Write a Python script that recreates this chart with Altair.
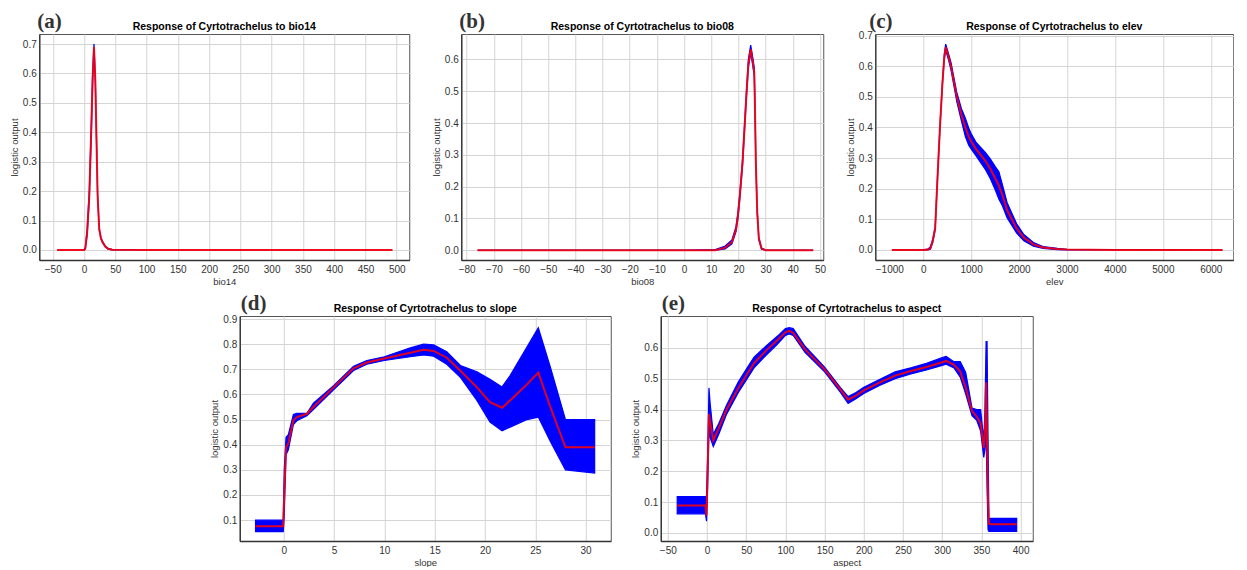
import altair as alt
import pandas as pd

# ---------------- data ----------------
# (a) bio14
a_x = [-43, 0, 2, 5, 8.4, 11.6, 13.7, 15.9, 18, 19.6, 21.7, 24.3, 27, 29.6, 34, 38.6, 45, 100, 200, 300, 400, 493]
a_mean = [0, 0, 0.005, 0.06, 0.185, 0.41, 0.58, 0.69, 0.58, 0.41, 0.185, 0.071, 0.04, 0.027, 0.012, 0.004, 0.001, 0, 0, 0, 0, 0]
a_lo = [0, 0, 0.003, 0.05, 0.17, 0.39, 0.56, 0.68, 0.57, 0.40, 0.18, 0.068, 0.038, 0.025, 0.011, 0.003, 0, 0, 0, 0, 0, 0]
a_hi = [0, 0, 0.008, 0.07, 0.2, 0.43, 0.6, 0.7, 0.59, 0.42, 0.19, 0.074, 0.042, 0.029, 0.013, 0.005, 0.002, 0, 0, 0, 0, 0]

# (b) bio08
b_x = [-76, -40, 0, 11.5, 15.1, 17.6, 19.1, 19.8, 20.5, 21.5, 22.2, 22.9, 23.65, 24.5, 25.1, 25.8, 26.0, 26.4, 26.9, 27.5, 28.5, 30, 47.5]
b_mean = [0, 0, 0, 0, 0.008, 0.025, 0.066, 0.108, 0.17, 0.276, 0.38, 0.485, 0.585, 0.632, 0.60, 0.56, 0.485, 0.276, 0.12, 0.036, 0.005, 0, 0]
b_lo = [0, 0, 0, 0, 0.004, 0.02, 0.058, 0.1, 0.162, 0.266, 0.37, 0.475, 0.575, 0.62, 0.59, 0.55, 0.475, 0.27, 0.115, 0.032, 0.003, 0, 0]
b_hi = [0, 0, 0, 0.002, 0.013, 0.032, 0.074, 0.118, 0.18, 0.286, 0.39, 0.495, 0.6, 0.645, 0.615, 0.575, 0.5, 0.285, 0.126, 0.04, 0.007, 0, 0]

# (c) elev
c_x = [-654, 0, 100, 150, 200, 250, 300, 350, 400, 440, 470, 530, 580, 640, 700, 800, 880, 950, 1000, 1100,
       1200, 1300, 1400, 1500, 1580, 1650, 1750, 1850, 1950, 2100, 2300, 2500, 2800, 3000, 4000, 6243]
c_mean = [0, 0, 0.001, 0.005, 0.03, 0.07, 0.24, 0.40, 0.54, 0.63, 0.662, 0.63, 0.6, 0.55, 0.5, 0.44, 0.40, 0.37, 0.355, 0.33,
          0.31, 0.29, 0.265, 0.235, 0.21, 0.18, 0.13, 0.1, 0.07, 0.04, 0.018, 0.008, 0.003, 0.001, 0, 0]
c_lo = [0, 0, 0, 0.002, 0.025, 0.065, 0.235, 0.395, 0.535, 0.622, 0.652, 0.62, 0.588, 0.537, 0.485, 0.42, 0.37, 0.342, 0.33, 0.308,
        0.285, 0.262, 0.233, 0.197, 0.165, 0.145, 0.105, 0.08, 0.055, 0.03, 0.012, 0.005, 0.001, 0, 0, 0]
c_hi = [0, 0, 0.003, 0.01, 0.035, 0.075, 0.245, 0.405, 0.545, 0.638, 0.672, 0.64, 0.612, 0.563, 0.515, 0.46, 0.43, 0.398, 0.38, 0.352,
        0.335, 0.318, 0.297, 0.273, 0.255, 0.215, 0.155, 0.12, 0.085, 0.05, 0.024, 0.011, 0.005, 0.002, 0.001, 0]

# (d) slope
d_x = [-2.8, -0.05, 0.05, 0.23, 0.46, 0.96, 1.3, 2.3, 2.95, 4.95, 6.94, 8.26, 10, 12.58, 13.9, 14.9, 16.2, 17.56,
       19.2, 20.5, 21.7, 22.5, 24.2, 25.3, 26.5, 28.0, 30.9]
d_mean = [0.076, 0.076, 0.2, 0.39, 0.405, 0.497, 0.51, 0.523, 0.55, 0.628, 0.704, 0.727, 0.743, 0.766, 0.778, 0.773, 0.746, 0.694,
          0.628, 0.569, 0.547, 0.576, 0.641, 0.687, 0.55, 0.39, 0.39]
d_lo = [0.054, 0.054, 0.12, 0.36, 0.38, 0.48, 0.495, 0.515, 0.54, 0.618, 0.695, 0.72, 0.735, 0.75, 0.757, 0.752, 0.72, 0.668,
        0.576, 0.49, 0.455, 0.47, 0.5, 0.51, 0.413, 0.30, 0.287]
d_hi = [0.1, 0.1, 0.3, 0.43, 0.44, 0.52, 0.525, 0.525, 0.565, 0.635, 0.712, 0.735, 0.75, 0.785, 0.8, 0.797, 0.77, 0.715,
        0.69, 0.66, 0.63, 0.675, 0.79, 0.865, 0.708, 0.5, 0.5]

# (e) aspect
e_x = [-38, -2, -0.6, 0.8, 2.5, 4, 8, 15, 25, 40, 50, 60, 75, 90, 100, 105, 110, 125, 150, 170,
       180, 190, 200, 220, 240, 260, 280, 300, 305, 315, 323, 330, 338, 344, 349, 353, 354.5, 356, 357.2, 358.5,
       359.6, 362, 395]
e_mean = [0.089, 0.089, 0.056, 0.2, 0.385, 0.36, 0.30, 0.34, 0.40, 0.47, 0.51, 0.55, 0.59, 0.625, 0.65, 0.655, 0.648, 0.595, 0.53, 0.465,
          0.432, 0.445, 0.462, 0.487, 0.51, 0.525, 0.538, 0.553, 0.558, 0.545, 0.523, 0.47, 0.395, 0.377, 0.355, 0.275, 0.33, 0.488, 0.3, 0.1,
          0.03, 0.028, 0.028]
e_lo = [0.062, 0.062, 0.038, 0.15, 0.33, 0.31, 0.28, 0.32, 0.385, 0.455, 0.495, 0.535, 0.575, 0.612, 0.64, 0.645, 0.64, 0.585, 0.522, 0.456,
        0.42, 0.435, 0.452, 0.478, 0.5, 0.515, 0.528, 0.543, 0.547, 0.535, 0.505, 0.45, 0.38, 0.365, 0.33, 0.245, 0.27, 0.33, 0.15, 0.01,
        0.005, 0.005, 0.005]
e_hi = [0.118, 0.118, 0.12, 0.25, 0.47, 0.42, 0.32, 0.355, 0.415, 0.49, 0.53, 0.57, 0.605, 0.638, 0.662, 0.665, 0.662, 0.605, 0.537, 0.472,
        0.442, 0.455, 0.472, 0.497, 0.522, 0.535, 0.55, 0.568, 0.572, 0.555, 0.555, 0.52, 0.405, 0.40, 0.40, 0.30, 0.395, 0.62, 0.62, 0.3,
        0.047, 0.047, 0.047]

# tick labels
a_xticks = [-50, 0, 50, 100, 150, 200, 250, 300, 350, 400, 450, 500]
b_xticks = [-80, -70, -60, -50, -40, -30, -20, -10, 0, 10, 20, 30, 40, 50]
c_xticks = [-1000, 0, 1000, 2000, 3000, 4000, 5000, 6000]
d_xticks = [0, 5, 10, 15, 20, 25, 30]
e_xticks = [-50, 0, 50, 100, 150, 200, 250, 300, 350, 400]
y07 = [0.0, 0.1, 0.2, 0.3, 0.4, 0.5, 0.6, 0.7]
y06 = [0.0, 0.1, 0.2, 0.3, 0.4, 0.5, 0.6]
y19 = [0.1, 0.2, 0.3, 0.4, 0.5, 0.6, 0.7, 0.8, 0.9]

SANS = "Liberation Sans"


def panel(x, mean, lo, hi, xdom, ydom, xticks, yticks, xtitle, var, letter, w, h, letter_dx):
    df = pd.DataFrame({"x": x, "mean": mean, "lo": lo, "hi": hi})
    xs = alt.Scale(domain=xdom, nice=False, zero=False)
    ys = alt.Scale(domain=ydom, nice=False, zero=False)
    xa = alt.Axis(values=xticks, format="d", title=xtitle, grid=True)
    ya = alt.Axis(values=yticks, format=".1f", title="logistic output", grid=True)
    base = alt.Chart(df)
    band = base.mark_area(color="#0000ff", stroke="#0000ff", strokeWidth=1.2, opacity=1).encode(
        x=alt.X("x:Q", scale=xs, axis=xa),
        y=alt.Y("lo:Q", scale=ys, axis=ya),
        y2="hi:Q",
    )
    line = base.mark_line(color="#ff0000", strokeWidth=2, opacity=0.88).encode(
        x=alt.X("x:Q", scale=xs, axis=xa),
        y=alt.Y("mean:Q", scale=ys, axis=ya),
    )
    lab = alt.Chart(pd.DataFrame({"t": [letter]})).mark_text(
        font="Liberation Serif", fontSize=21, fontWeight="bold", color="#333333",
        align="left", baseline="alphabetic",
    ).encode(x=alt.value(letter_dx), y=alt.value(-6), text="t:N")
    ttl = alt.Chart(pd.DataFrame({"t": [f"Response of Cyrtotrachelus to {var}"]})).mark_text(
        font=SANS, fontSize=10.5, fontWeight="bold", color="#000000",
        align="center", baseline="alphabetic",
    ).encode(x=alt.value(w / 2), y=alt.value(-4), text="t:N")
    return alt.layer(band, line, lab, ttl).properties(width=w, height=h)


pa = panel(a_x, a_mean, a_lo, a_hi, [-71.6, 520], [-0.034, 0.734], a_xticks, y07, "bio14", "bio14", "(a)", 370, 226, -2)
pb = panel(b_x, b_mean, b_lo, b_hi, [-82, 51.2], [-0.031, 0.68], b_xticks, y06, "bio08", "bio08", "(b)", 362, 226, -2)
pc = panel(c_x, c_mean, c_lo, c_hi, [-1000, 6469], [-0.033, 0.705], c_xticks, y07, "elev", "elev", "(c)", 358, 226, -6)
pd_ = panel(d_x, d_mean, d_lo, d_hi, [-4.37, 32.5], [0.017, 0.912], d_xticks, y19, "slope", "slope", "(d)", 371, 225, 1)
pe = panel(e_x, e_mean, e_lo, e_hi, [-59, 415.5], [-0.026, 0.703], e_xticks, y06, "aspect", "aspect", "(e)", 372, 225, 1)

top = alt.hconcat(pa, pb, pc, spacing=52, bounds="flush")
bottom = alt.hconcat(pd_, pe, spacing=50, bounds="flush")

chart = alt.vconcat(top, bottom, spacing=6, center=True).properties(
    padding={"left": 0, "top": 2, "right": 0, "bottom": 0}
).configure_view(
    stroke="#555555", strokeWidth=1
).configure_axis(
    gridColor="#d4d4d4", gridWidth=1, domainColor="#333333", domainWidth=1.3,
    ticks=False, labelFont=SANS, labelFontSize=10, labelColor="#333333",
    titleFont=SANS, titleFontSize=9.5, titleFontWeight="normal", titleColor="#333333",
).configure_axisY(
    labelPadding=3, titlePadding=3
).configure_axisX(
    labelPadding=4, titlePadding=2
)

chart.save("out.html", embed_options={"renderer": "svg", "actions": False})
